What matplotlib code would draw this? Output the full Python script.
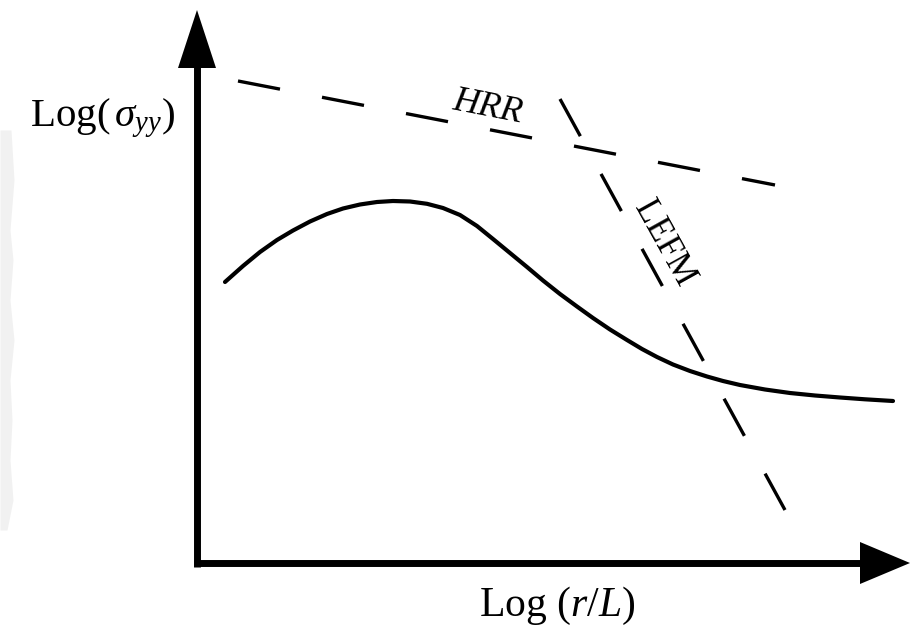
import numpy as np
import matplotlib
matplotlib.use("Agg")
import matplotlib.pyplot as plt
from matplotlib.patches import Polygon

plt.rcParams['font.family'] = ['Liberation Serif', 'DejaVu Serif']
plt.rcParams['mathtext.fontset'] = 'custom'
plt.rcParams['mathtext.rm'] = 'Liberation Serif'
plt.rcParams['mathtext.it'] = 'Liberation Serif:italic'
plt.rcParams['lines.scale_dashes'] = False

# ---- data (schematic units, origin at the axes corner) ----
curve_x = [28, 46, 63, 80, 96, 113, 130, 146, 163, 180, 196, 213, 230, 246, 263,
           280, 296, 313, 330, 346, 363, 380, 396, 413, 430, 445, 460, 476, 493,
           510, 526, 543, 568, 593, 618, 643, 668, 696]
curve_y = [281, 297, 311, 323, 332.5, 341.5, 349, 354.5, 358.5, 361, 362, 361.5,
           359.2, 355, 348, 337, 324, 310, 296, 282.5, 269, 256.5, 245, 233.5,
           223, 214, 206, 198.5, 192, 186.5, 182, 178, 173.5, 170, 167.5, 165.5,
           163.7, 162]

hrr_x = [41, 578]
hrr_y = [482, 378]

lefm_x = [363, 588]
lefm_y = [464, 53]

x_axis_end = 713
y_axis_end = 553

fig = plt.figure(figsize=(9.1, 6.35), dpi=100)
ax = fig.add_axes([0, 0, 1, 1])
ax.set_xlim(-197, 713)
ax.set_ylim(-72, 563)
ax.axis('off')

# faint scan artefact on the left edge
ys = np.array([563 - v for v in [130, 180, 230, 260, 300, 340, 380, 420, 460, 500, 530]])
xs = np.array([11, 14, 10, 13, 10, 14, 10, 12, 10, 13, 7]) - 197
ax.fill_betweenx(ys, -197, xs, color='#f1f1f1', lw=0, zorder=0)

# axes with arrowheads
half = 3.5
ax.plot([0, 0], [-half, y_axis_end - 50], color='black', lw=5, solid_capstyle='butt', zorder=3)
ax.plot([-half, x_axis_end - 45], [0, 0], color='black', lw=5, solid_capstyle='butt', zorder=3)
ax.add_patch(Polygon([[-19, y_axis_end - 58], [19, y_axis_end - 58], [0, y_axis_end]],
                     closed=True, color='black', lw=0, zorder=3))
ax.add_patch(Polygon([[x_axis_end - 50, -21], [x_axis_end - 50, 21], [x_axis_end, 0]],
                     closed=True, color='black', lw=0, zorder=3))

# curves
ax.plot(curve_x, curve_y, color='black', lw=3.0, solid_capstyle='round', solid_joinstyle='round', zorder=2)
ax.plot(hrr_x, hrr_y, color='black', lw=2.4, linestyle=(0, (30.8, 30.8)), dash_capstyle='butt', zorder=2)
ax.plot(lefm_x, lefm_y, color='black', lw=2.4, linestyle=(0, (30.5, 31.0)), dash_capstyle='butt', zorder=2)

# labels
ax.text(291, 456, 'HRR', fontsize=26, style='italic', rotation=-11,
        ha='center', va='center', rotation_mode='anchor')
ax.text(467, 320, 'LEFM', fontsize=25, rotation=-61,
        ha='center', va='center', rotation_mode='anchor')
ax.text(-94, 445, r'Log($\,\sigma_{yy}$)', fontsize=29.5, ha='center', va='center')
ax.text(360, -43, r'Log ($r$/$L$)', fontsize=30, ha='center', va='center')

fig.savefig('out.png', dpi=100)
